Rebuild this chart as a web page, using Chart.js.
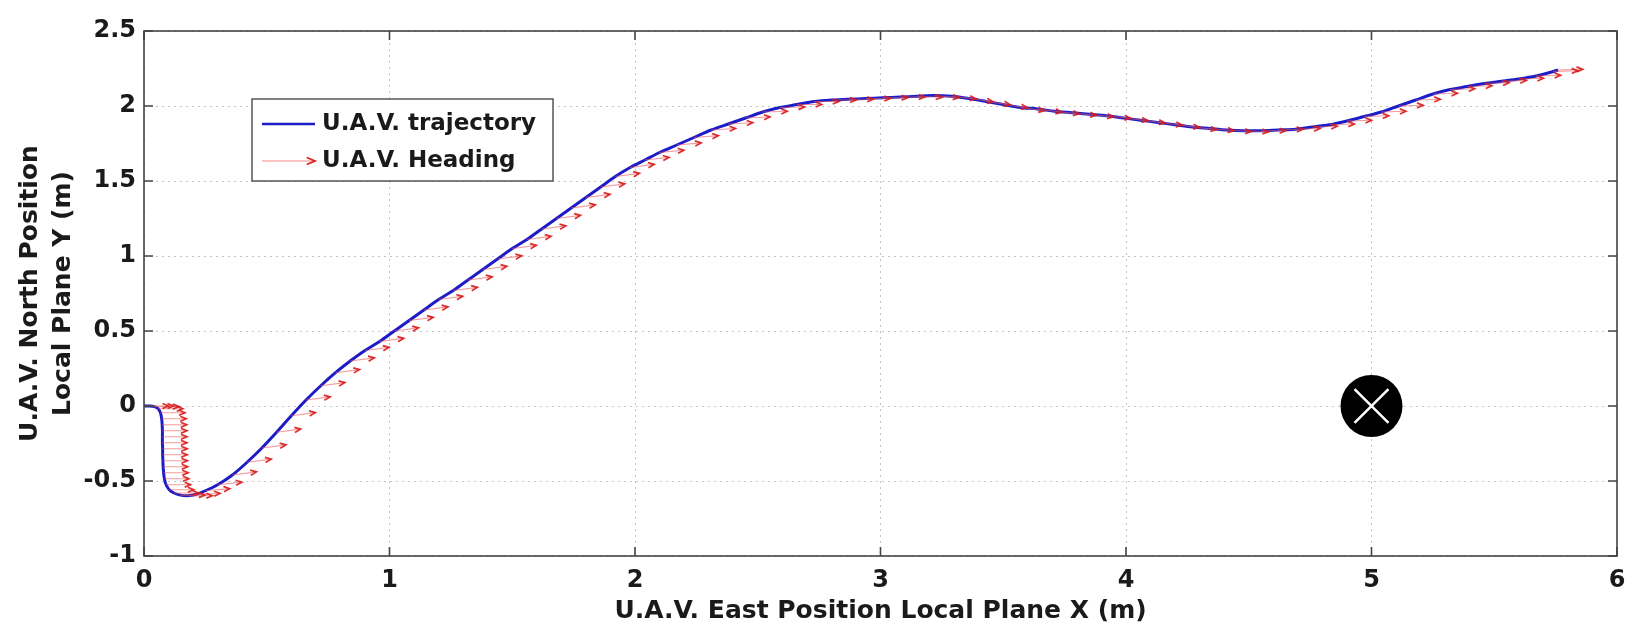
<!DOCTYPE html>
<html>
<head>
<meta charset="utf-8">
<title>U.A.V. trajectory</title>
<script src="https://cdn.jsdelivr.net/npm/chart.js@4.4.1/dist/chart.umd.min.js"></script>
<style>
  html, body { margin: 0; padding: 0; background: #fff; }
  #wrap { width: 1648px; height: 631px; }
</style>
</head>
<body>
<div id="wrap"><canvas id="trajChart" width="1648" height="631"></canvas></div>
<script>
// U.A.V. position in the local plane (m)
const trajX = [
  0.000, 0.020, 0.042, 0.058, 0.067, 0.072, 0.074, 0.075, 0.075, 0.075,
  0.076, 0.076, 0.077, 0.078, 0.080, 0.083, 0.090, 0.103, 0.122, 0.148,
  0.178, 0.210, 0.250, 0.300, 0.360, 0.420, 0.480, 0.540, 0.600, 0.660,
  0.720, 0.780, 0.840, 0.900, 0.960, 1.020, 1.080, 1.140, 1.200, 1.260,
  1.320, 1.380, 1.440, 1.500, 1.560, 1.620, 1.680, 1.740, 1.800, 1.860,
  1.920, 1.980, 2.040, 2.100, 2.170, 2.240, 2.310, 2.380, 2.450, 2.520,
  2.590, 2.660, 2.730, 2.800, 2.870, 2.940, 3.010, 3.080, 3.150, 3.220,
  3.290, 3.360, 3.430, 3.500, 3.570, 3.640, 3.710, 3.780, 3.850, 3.920,
  3.990, 4.060, 4.130, 4.200, 4.270, 4.340, 4.410, 4.480, 4.550, 4.620,
  4.690, 4.760, 4.830, 4.900, 4.970, 5.040, 5.110, 5.180, 5.250, 5.320,
  5.390, 5.460, 5.530, 5.600, 5.670, 5.740, 5.760
];
const trajY = [
  0.000, 0.000, -0.004, -0.018, -0.045, -0.085, -0.125, -0.165, -0.205, -0.245,
  -0.285, -0.325, -0.365, -0.405, -0.445, -0.485, -0.525, -0.558, -0.580, -0.594,
  -0.598, -0.590, -0.565, -0.525, -0.460, -0.375, -0.280, -0.175, -0.065, 0.040,
  0.135, 0.222, 0.300, 0.370, 0.430, 0.500, 0.570, 0.640, 0.710, 0.770,
  0.840, 0.910, 0.980, 1.050, 1.110, 1.180, 1.250, 1.320, 1.390, 1.460,
  1.530, 1.590, 1.640, 1.690, 1.740, 1.790, 1.840, 1.880, 1.920, 1.960,
  1.990, 2.010, 2.030, 2.040, 2.045, 2.050, 2.055, 2.060, 2.065, 2.070,
  2.065, 2.050, 2.030, 2.010, 1.990, 1.980, 1.965, 1.955, 1.945, 1.935,
  1.920, 1.905, 1.890, 1.875, 1.860, 1.850, 1.840, 1.835, 1.835, 1.840,
  1.845, 1.860, 1.875, 1.900, 1.930, 1.960, 2.000, 2.040, 2.080, 2.110,
  2.130, 2.150, 2.165, 2.180, 2.200, 2.230, 2.240
];
// heading at each sample, degrees from +X
const headingDeg = [
  0, 0, 0, 0, 0, 0, 0, 0, 0, 0,
  0, 0, 0, 0, 0, 0, 0, 0, 0, 0,
  0, 4, 8, 10, 12, 12, 12, 12, 12, 12,
  12, 12, 12, 12, 12, 12, 12, 12, 12, 12,
  12, 12, 12, 12, 12, 12, 12, 12, 12, 12,
  12, 12, 10, 9, 8, 7, 6, 5, 4, 3,
  2, 0, 0, 0, 0, 0, 0, 0, -4, -8,
  -10, -12, -12, -12, -12, -12, -10, -10, -10, -10,
  -10, -10, -10, -10, -10, -8, -6, -4, 0, 3,
  3, 3, 3, 3, 3, 3, 3, 3, 3, 3,
  3, 3, 3, 3, 3, 3, 3
];
const arrowLen = 0.1;

// target position
const targetX = [5];
const targetY = [0];

const xTicks = [0, 1, 2, 3, 4, 5, 6];
const yTicks = [-1, -0.5, 0, 0.5, 1, 1.5, 2, 2.5];

const FONT = "'DejaVu Sans', 'Liberation Sans', sans-serif";
const BLUE = '#1c1cc8';

const trajPts = trajX.map((x, i) => ({x: x, y: trajY[i]}));
const headingSegs = [];
trajX.forEach((x, i) => {
    const a = headingDeg[i] * Math.PI / 180;
    headingSegs.push({x: x, y: trajY[i]});
    headingSegs.push({x: x + arrowLen * Math.cos(a), y: trajY[i] + arrowLen * Math.sin(a)});
    headingSegs.push({x: x, y: null});
});
const targetPts = targetX.map((x, i) => ({x: x, y: targetY[i]}));

function drawHead(ctx, x0, y0, x1, y1, size) {
    const ang = Math.atan2(y1 - y0, x1 - x0);
    ctx.beginPath();
    ctx.moveTo(x1 - size * Math.cos(ang - 0.4), y1 - size * Math.sin(ang - 0.4));
    ctx.lineTo(x1, y1);
    ctx.lineTo(x1 - size * Math.cos(ang + 0.4), y1 - size * Math.sin(ang + 0.4));
    ctx.stroke();
}

// arrow heads, box frame with inward ticks, and the legend
const matlabLook = {
    id: 'matlabLook',
    afterDatasetsDraw(chart) {
        const ctx = chart.ctx;
        const meta = chart.getDatasetMeta(2);
        ctx.save();
        ctx.strokeStyle = 'rgba(215,25,25,0.9)';
        ctx.lineWidth = 1.7;
        for (let i = 0; i + 1 < meta.data.length; i += 3) {
            const p0 = meta.data[i], p1 = meta.data[i + 1];
            drawHead(ctx, p0.x, p0.y, p1.x, p1.y, 6.5);
        }
        ctx.restore();
    },
    afterDraw(chart) {
        const ctx = chart.ctx;
        const a = chart.chartArea;
        const sx = chart.scales.x, sy = chart.scales.y;
        ctx.save();
        ctx.strokeStyle = '#444';
        ctx.lineWidth = 1.6;
        ctx.strokeRect(a.left, a.top, a.right - a.left, a.bottom - a.top);
        ctx.beginPath();
        sx.ticks.forEach(t => {
            const px = sx.getPixelForValue(t.value);
            ctx.moveTo(px, a.bottom); ctx.lineTo(px, a.bottom - 9);
            ctx.moveTo(px, a.top); ctx.lineTo(px, a.top + 9);
        });
        sy.ticks.forEach(t => {
            const py = sy.getPixelForValue(t.value);
            ctx.moveTo(a.left, py); ctx.lineTo(a.left + 9, py);
            ctx.moveTo(a.right, py); ctx.lineTo(a.right - 9, py);
        });
        ctx.stroke();

        // legend box
        const lx = a.left + 108, ly = a.top + 68, lw = 301, lh = 82;
        ctx.fillStyle = '#fff';
        ctx.fillRect(lx, ly, lw, lh);
        ctx.strokeStyle = '#555';
        ctx.lineWidth = 1.5;
        ctx.strokeRect(lx, ly, lw, lh);
        const r1 = ly + 25, r2 = ly + 62;
        ctx.strokeStyle = BLUE;
        ctx.lineWidth = 2.5;
        ctx.beginPath(); ctx.moveTo(lx + 10, r1); ctx.lineTo(lx + 63, r1); ctx.stroke();
        ctx.strokeStyle = 'rgba(235,90,90,0.7)';
        ctx.lineWidth = 1.2;
        ctx.beginPath(); ctx.moveTo(lx + 10, r2); ctx.lineTo(lx + 63, r2); ctx.stroke();
        ctx.strokeStyle = 'rgba(220,20,20,0.95)';
        ctx.lineWidth = 1.8;
        drawHead(ctx, lx + 10, r2, lx + 63, r2, 9);
        ctx.fillStyle = '#1a1a1a';
        ctx.font = 'bold 23px ' + FONT;
        ctx.textBaseline = 'middle';
        ctx.fillText(chart.data.datasets[3].label, lx + 70, r1);
        ctx.fillText(chart.data.datasets[2].label, lx + 70, r2);
        ctx.restore();
    }
};

function drawTrajectoryChart() {
    const ctx = document.getElementById('trajChart').getContext('2d');
    new Chart(ctx, {
        type: 'line',
        data: {
            datasets: [
                {
                    label: 'Target cross',
                    data: targetPts,
                    showLine: false,
                    pointStyle: 'crossRot',
                    pointRadius: 24,
                    borderColor: '#ffffff',
                    pointBorderWidth: 2.5,
                    order: 0
                },
                {
                    label: 'Target',
                    data: targetPts,
                    showLine: false,
                    pointStyle: 'circle',
                    pointRadius: 31,
                    backgroundColor: '#000000',
                    borderColor: '#000000',
                    pointBorderWidth: 0,
                    order: 1
                },
                {
                    label: 'U.A.V. Heading',
                    data: headingSegs,
                    borderColor: 'rgba(235,90,90,0.6)',
                    borderWidth: 1.1,
                    pointRadius: 0,
                    spanGaps: false,
                    tension: 0,
                    order: 2
                },
                {
                    label: 'U.A.V. trajectory',
                    data: trajPts,
                    borderColor: BLUE,
                    borderWidth: 3,
                    pointRadius: 0,
                    tension: 0.3,
                    order: 3
                }
            ]
        },
        options: {
            responsive: false,
            animation: false,
            layout: { padding: { top: 30, right: 18, left: 0, bottom: 0 } },
            plugins: {
                legend: { display: false },
                tooltip: { enabled: false }
            },
            scales: {
                x: {
                    type: 'linear',
                    min: 0,
                    max: 6,
                    afterBuildTicks: s => { s.ticks = xTicks.map(v => ({value: v})); },
                    afterFit: s => { s.height = 75; },
                    grid: { color: '#c4c4c4', lineWidth: 1, drawTicks: false },
                    border: { display: false, dash: [2, 4] },
                    ticks: {
                        padding: 10,
                        color: '#1a1a1a',
                        font: { family: FONT, size: 24, weight: 'bold' },
                        callback: v => String(v)
                    },
                    title: {
                        display: true,
                        text: 'U.A.V. East Position Local Plane X (m)',
                        color: '#1a1a1a',
                        font: { family: FONT, size: 25, weight: 'bold' },
                        padding: { top: 0, bottom: 5 }
                    }
                },
                y: {
                    min: -1,
                    max: 2.5,
                    afterBuildTicks: s => { s.ticks = yTicks.map(v => ({value: v})); },
                    afterFit: s => { s.width = 144; },
                    grid: { color: '#c4c4c4', lineWidth: 1, drawTicks: false },
                    border: { display: false, dash: [2, 4] },
                    ticks: {
                        padding: 8,
                        color: '#1a1a1a',
                        font: { family: FONT, size: 24, weight: 'bold' },
                        callback: v => String(v)
                    },
                    title: {
                        display: true,
                        text: ['U.A.V. North Position', 'Local Plane Y (m)'],
                        color: '#1a1a1a',
                        font: { family: FONT, size: 25, weight: 'bold', lineHeight: 1.33 },
                        padding: { top: 14, bottom: 0 }
                    }
                }
            }
        },
        plugins: [matlabLook]
    });
}

drawTrajectoryChart();
</script>
</body>
</html>
